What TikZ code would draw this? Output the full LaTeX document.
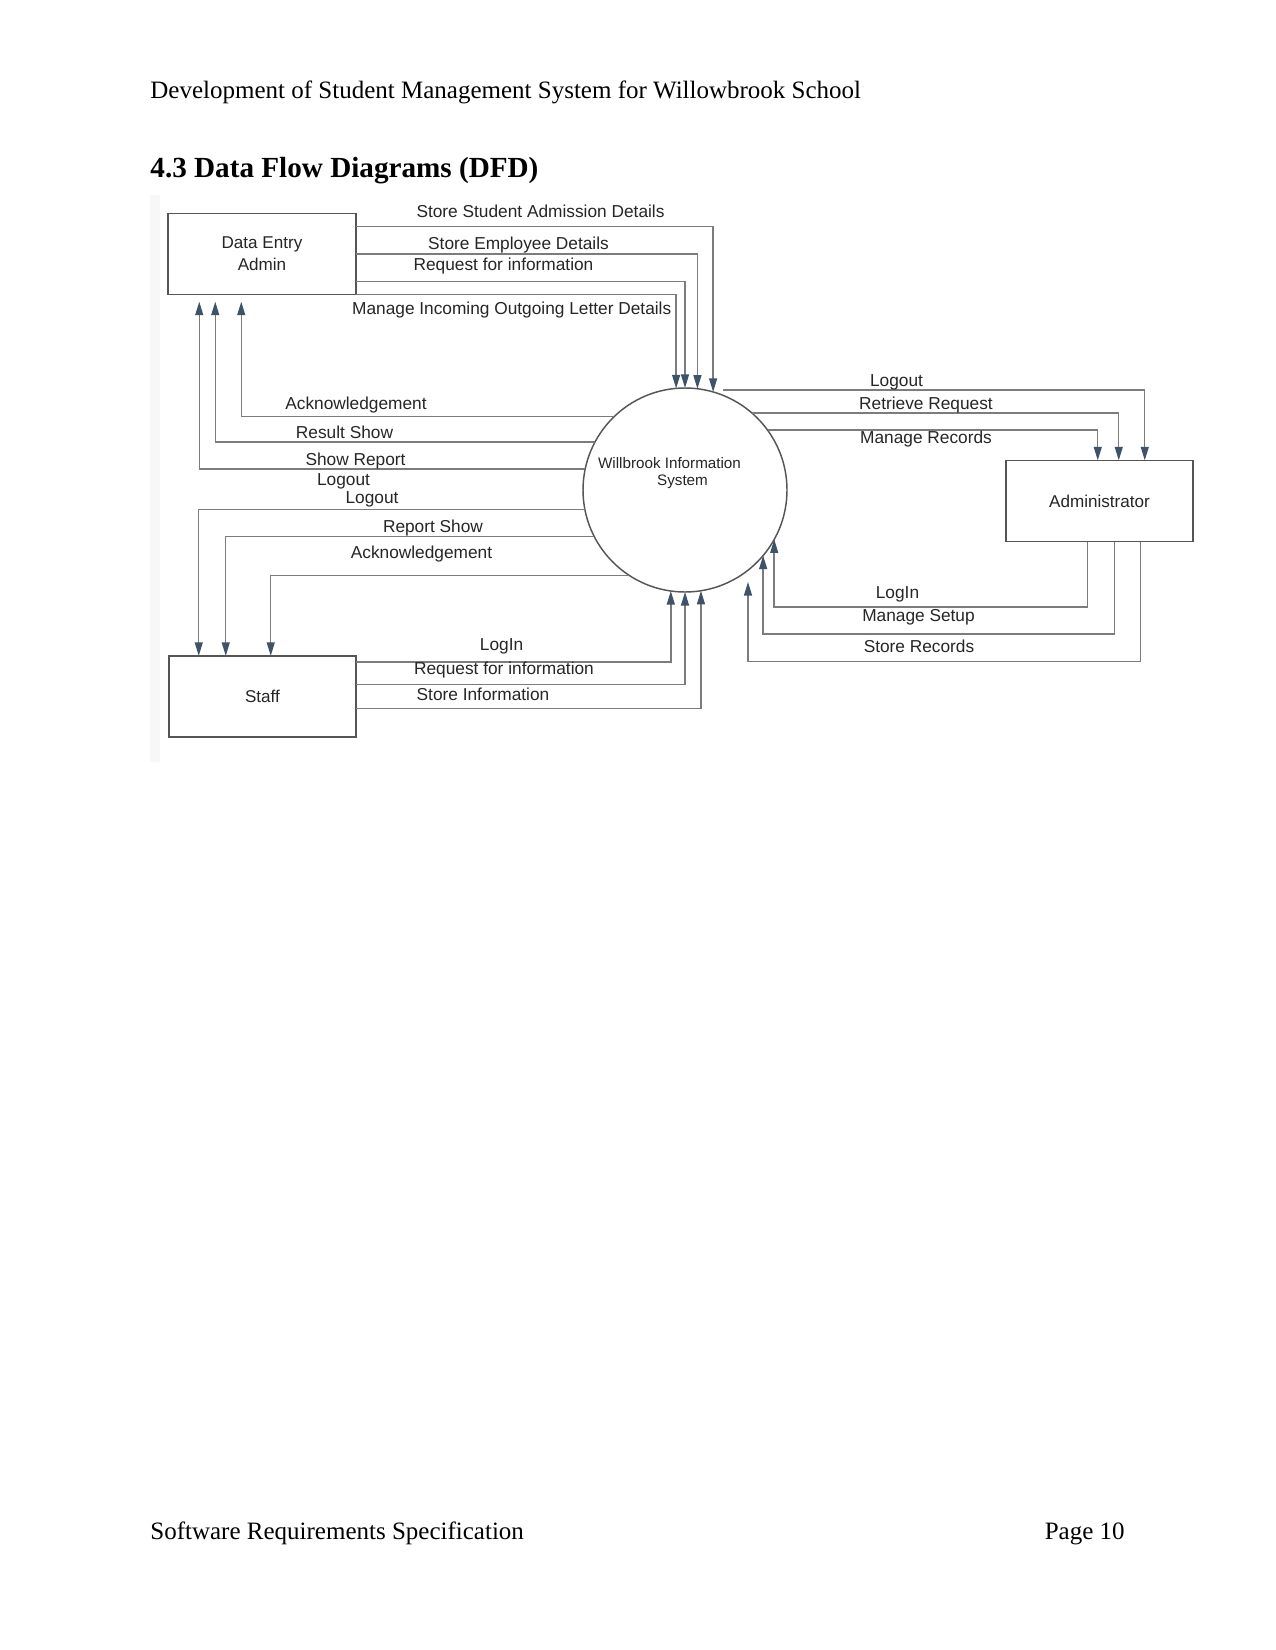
\documentclass[tikz,border=0pt]{standalone}
\usepackage{fontspec}
\setmainfont{Liberation Serif}
\newfontfamily\diagfont{Liberation Sans}
\usetikzlibrary{arrows.meta,calc}
\definecolor{linec}{HTML}{7C7C7C}
\definecolor{boxc}{HTML}{555555}
\definecolor{tipc}{HTML}{3E5268}
\definecolor{txtc}{HTML}{262626}
\definecolor{stripc}{HTML}{F7F7F7}
\begin{document}
\begin{tikzpicture}[x=0.48pt,y=-0.48pt,
  entity/.style={draw=boxc,line width=0.8pt,inner sep=0pt,outer sep=0pt,
    minimum width=90pt,minimum height=39pt,align=center,text=txtc,
    font=\diagfont\fontsize{8.2}{10.4}\selectfont},
  process/.style={circle,draw=boxc,line width=0.7pt,inner sep=0pt,outer sep=0pt,minimum size=97.92pt},
  flow/.style={draw=linec,line width=0.7pt,-{Triangle[length=6.5pt,width=3.8pt,color=tipc]}},
  lbl/.style={inner sep=0pt,text=txtc,font=\diagfont\fontsize{8.3}{10}\selectfont},
  ctext/.style={inner sep=0pt,text=txtc,font=\diagfont\fontsize{7.3}{9}\selectfont},
  pagetext/.style={inner sep=0pt,font=\fontsize{12}{14}\selectfont}
]
\fill[white] (0,0) rectangle (1275,1650);
\useasboundingbox (0,0) rectangle (1275,1650);
\fill[stripc] (150,195) rectangle (160,762);

% page texts
\node[pagetext,anchor=base west] (hdr) at (150,99) {Development of Student Management System for Willowbrook School};
\node[pagetext,anchor=base west,font=\bfseries\fontsize{14}{16}\selectfont] (sec) at (150,178) {4.3 Data Flow Diagrams (DFD)};
\node[pagetext,anchor=base west] (ftl) at (150,1539) {Software Requirements Specification};
\node[pagetext,anchor=base east] (ftr) at (1125,1539) {Page 10};

% entities and process
\node[entity] (dea) at (262,254) {Data Entry\\Admin};
\node[entity] (admin) at (1099.5,501) {Administrator};
\node[entity] (staff) at (262.5,696.5) {Staff};
\node[process] (circ) at (685,490) {};
\node[ctext] (c1) at (669.5,462.7) {Willbrook Information};
\node[ctext] (c2) at (682.5,481.7) {System};

% Data Entry Admin -> system
\draw[flow] ($(dea.north east)+(0,13)$) -| (circ.74.65);
\draw[flow] (dea.east) -| (circ.83.24);
\draw[flow] ($(dea.north east)+(0,68)$) -| (circ.90);
\draw[flow] (dea.south east) -| (circ.95.63);

% system -> Data Entry Admin
\draw[flow,shorten >=3.4pt] (circ.134.28) -| ($(dea.south west)+(73,0)$);
\draw[flow,shorten >=3.4pt] (circ.152.88) -| ($(dea.south west)+(47,0)$);
\draw[flow,shorten >=3.4pt] (circ.168.98) -| ($(dea.south west)+(31,0)$);

% system -> Staff
\draw[flow] (circ.191.02) -| ($(staff.north west)+(30,0)$);
\draw[flow] (circ.207.12) -| ($(staff.north west)+(57,0)$);
\draw[flow] (circ.237.5) -| ($(staff.north west)+(102,0)$);

% Staff -> system
\draw[flow] ($(staff.north east)+(0,6)$) -| (circ.262.1);
\draw[flow] ($(staff.north east)+(0,28.6)$) -| (circ.270);
\draw[flow] ($(staff.north east)+(0,52.6)$) -| (circ.279.6);

% system -> Administrator
\coordinate (loA) at (723,390);
\draw[flow] (loA) -| ($(admin.north west)+(139,0)$);
\draw[flow] (circ.49.0) -| ($(admin.north west)+(113,0)$);
\draw[flow] (circ.36.0) -| ($(admin.north west)+(92,0)$);

% Administrator -> system
\coordinate (srT) at (748,582);
\draw[flow] ($(admin.south west)+(82,0)$) -- ++(0,65.3) -| (circ.331.93);
\draw[flow] ($(admin.south west)+(109,0)$) -- ++(0,92.3) -| (circ.320.8);
\draw[flow] ($(admin.south west)+(135,0)$) -- ++(0,120) -| (srT);

% labels
\node[lbl] (t1) at (540.5,211.7) {Store Student Admission Details};
\node[lbl] (t2) at (518.5,245) {Store Employee Details};
\node[lbl] (t3) at (503.5,266) {Request for information};
\node[lbl] (t4) at (511.7,310) {Manage Incoming Outgoing Letter Details};

\node[lbl] (t5) at (356,405) {Acknowledgement};
\node[lbl] (t6) at (344.5,432) {Result Show};
\node[lbl] (t7) at (355.5,461) {Show Report};
\node[lbl] (t8) at (343.5,481) {Logout};
\node[lbl] (t9) at (372,499) {Logout};
\node[lbl] (t10) at (433,528) {Report Show};
\node[lbl] (t11) at (421.5,554) {Acknowledgement};

\node[lbl] (t12) at (501.6,646.7) {LogIn};
\node[lbl] (t13) at (504,670) {Request for information};
\node[lbl] (t14) at (483,694) {Store Information};

\node[lbl] (t15) at (896.5,382.7) {Logout};
\node[lbl] (t16) at (926,405) {Retrieve Request};
\node[lbl] (t17) at (926,439) {Manage Records};
\node[lbl] (t18) at (897.5,594) {LogIn};
\node[lbl] (t19) at (918.5,617) {Manage Setup};
\node[lbl] (t20) at (919,646) {Store Records};
\end{tikzpicture}
\end{document}
